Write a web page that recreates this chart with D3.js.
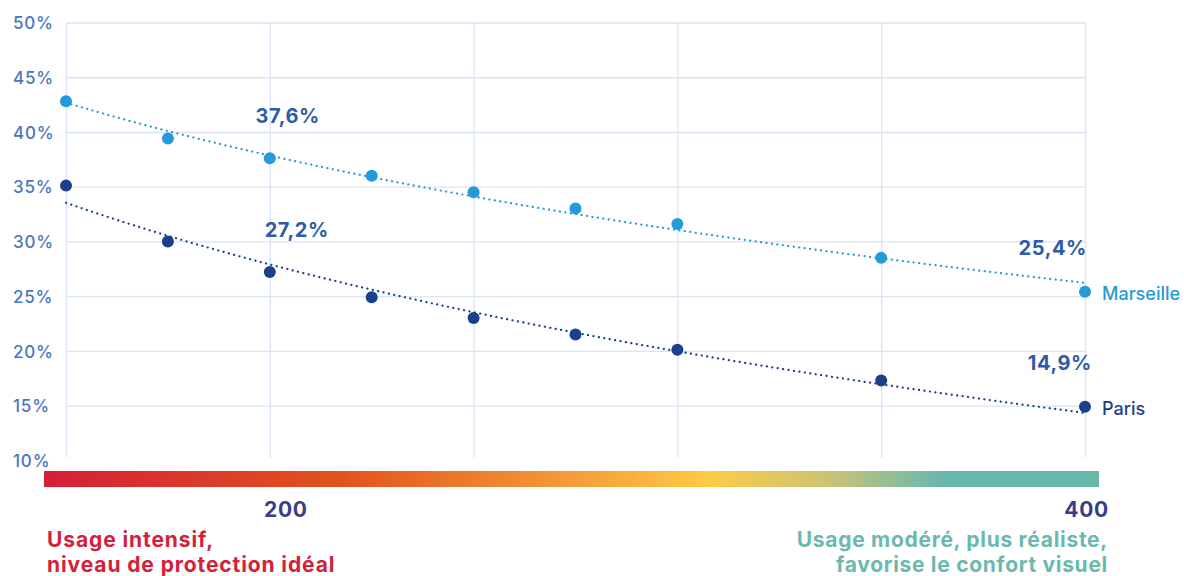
<!DOCTYPE html>
<html lang="fr">
<head>
<meta charset="utf-8">
<script src="https://cdn.jsdelivr.net/npm/d3@7"></script>
<style>
  html, body { margin: 0; padding: 0; background: #ffffff; }
  svg { display: block; font-family: "Inter", "Noto Sans", sans-serif; }
</style>
</head>
<body>
<svg id="chart" width="1184" height="576"></svg>
<script>
// Éclairement (lux) et part de la population concernée (%)
const lux = [150, 175, 200, 225, 250, 275, 300, 350, 400];
const marseille = [42.8, 39.4, 37.6, 36.0, 34.5, 33.0, 31.6, 28.5, 25.4];
const paris = [35.1, 30.0, 27.2, 24.9, 23.0, 21.5, 20.1, 17.3, 14.9];

const yTicks = [10, 15, 20, 25, 30, 35, 40, 45, 50];
const xGridTicks = [150, 200, 250, 300, 350, 400];
const xLabels = [200, 400];

// Valeurs annotées : [série, lux, texte]
const callouts = [
  ["marseille", 200, "37,6%"],
  ["paris", 200, "27,2%"],
  ["marseille", 400, "25,4%"],
  ["paris", 400, "14,9%"]
];

const series = [
  { key: "marseille", name: "Marseille", values: marseille, color: "#239bd8" },
  { key: "paris", name: "Paris", values: paris, color: "#1b3f8b" }
];

// Dégradé de la barre d'usage
const gradientStops = [
  [0.00, "#d41f37"],
  [0.28, "#e2521c"],
  [0.52, "#f6a33a"],
  [0.63, "#fecb45"],
  [0.74, "#cdc472"],
  [0.85, "#69b8ae"],
  [1.00, "#69b8ae"]
];

const svg = d3.select("#chart");

const x = d3.scaleLinear().domain([150, 400]).range([66, 1085]);
const y = d3.scaleLinear().domain([10, 50]).range([460.4, 22.5]);

const gridColor = "#dae4f5";

// Quadrillage horizontal
svg.append("g")
  .attr("transform", `translate(${x(150)},0)`)
  .call(d3.axisLeft(y).tickValues(yTicks.filter(d => d > 10))
    .tickSize(-(x(400) - x(150))).tickFormat(""))
  .call(g => g.select(".domain").remove())
  .call(g => g.selectAll("line").attr("stroke", gridColor).attr("stroke-width", 1.3));

// Quadrillage vertical
svg.append("g")
  .attr("transform", `translate(0,${y(50)})`)
  .call(d3.axisBottom(x).tickValues(xGridTicks)
    .tickSize(y(10) - y(50) - 3).tickFormat(""))
  .call(g => g.select(".domain").remove())
  .call(g => g.selectAll("line").attr("stroke", gridColor).attr("stroke-width", 1.3));

// Étiquettes de l'axe des pourcentages
svg.append("g")
  .attr("transform", "translate(13,0)")
  .call(d3.axisLeft(y).tickValues(yTicks).tickSize(0).tickPadding(0)
    .tickFormat(d => d + "%"))
  .call(g => g.select(".domain").remove())
  .call(g => g.selectAll("text")
    .attr("x", 0)
    .attr("text-anchor", "start")
    .attr("dy", "0.36em")
    .attr("fill", "#4a76c0")
    .attr("font-family", "Inter, sans-serif")
    .attr("font-size", 17)
    .attr("font-weight", 500)
    .attr("letter-spacing", 0.8));

// Tendance logarithmique (moindres carrés sur ln x)
function logFit(xs, ys) {
  const lx = xs.map(Math.log);
  const mx = d3.mean(lx), my = d3.mean(ys);
  const a = d3.sum(lx, (v, i) => (v - mx) * (ys[i] - my)) / d3.sum(lx, v => (v - mx) ** 2);
  const b = my - a * mx;
  return v => a * Math.log(v) + b;
}

const samples = d3.range(150, 400.01, 2);

series.forEach(s => {
  const f = logFit(lux, s.values);
  svg.append("path")
    .datum(samples)
    .attr("fill", "none")
    .attr("stroke", s.color)
    .attr("stroke-width", 2.2)
    .attr("stroke-linecap", "round")
    .attr("stroke-dasharray", "0.1 5.4")
    .attr("d", d3.line().x(d => x(d)).y(d => y(f(d))));
});

// Points mesurés
series.forEach(s => {
  svg.append("g")
    .selectAll("circle")
    .data(lux.map((l, i) => [l, s.values[i]]))
    .join("circle")
    .attr("cx", d => x(d[0]))
    .attr("cy", d => y(d[1]))
    .attr("r", 6)
    .attr("fill", s.color);

  const last = s.values[s.values.length - 1];
  svg.append("text")
    .attr("x", x(lux[lux.length - 1]) + 17)
    .attr("y", y(last) + 2)
    .attr("dy", "0.35em")
    .attr("fill", s.color)
    .attr("font-size", 18)
    .attr("font-weight", 500)
    .text(s.name);
});

// Valeurs annotées
const valueOf = (key, l) => series.find(s => s.key === key).values[lux.indexOf(l)];
svg.append("g")
  .selectAll("text")
  .data(callouts)
  .join("text")
  .attr("x", d => d[1] === 400 ? x(d[1]) + (d[0] === "paris" ? 7 : 2) : x(d[1]) + (d[0] === "paris" ? 27 : 18))
  .attr("y", d => y(valueOf(d[0], d[1])) - (d[1] === 400 ? 37 : 35))
  .attr("text-anchor", d => d[1] === 400 ? "end" : "middle")
  .attr("fill", "#2e5ba7")
  .attr("font-size", 20)
  .attr("font-weight", 700)
  .attr("letter-spacing", 0.6)
  .text(d => d[2]);

// Barre dégradée
const grad = svg.append("defs").append("linearGradient")
  .attr("id", "usage-gradient")
  .attr("x1", "0%").attr("x2", "100%").attr("y1", "0%").attr("y2", "0%");
grad.selectAll("stop")
  .data(gradientStops)
  .join("stop")
  .attr("offset", d => d[0])
  .attr("stop-color", d => d[1]);

svg.append("rect")
  .attr("x", 44)
  .attr("y", 471)
  .attr("width", 1099 - 44)
  .attr("height", 16)
  .attr("fill", "url(#usage-gradient)");

// Graduations en lux
svg.append("g")
  .selectAll("text")
  .data(xLabels)
  .join("text")
  .attr("x", d => d === 200 ? x(d) + 16 : x(d) + 1.5)
  .attr("y", 517)
  .attr("text-anchor", "middle")
  .attr("fill", "#3a3d8c")
  .attr("font-size", 21)
  .attr("font-weight", 700)
  .attr("letter-spacing", 0.6)
  .text(d => d);

// Légendes d'usage
const leftNote = ["Usage intensif,", "niveau de protection idéal"];
const rightNote = ["Usage modéré, plus réaliste,", "favorise le confort visuel"];

svg.append("text")
  .attr("x", 47).attr("y", 547)
  .attr("fill", "#d42139")
  .attr("font-size", 21).attr("font-weight", 700)
  .attr("letter-spacing", 0.9)
  .selectAll("tspan").data(leftNote).join("tspan")
  .attr("x", 47).attr("dy", (d, i) => i ? 25 : 0)
  .text(d => d);

svg.append("text")
  .attr("x", 1108).attr("y", 547)
  .attr("text-anchor", "end")
  .attr("fill", "#6bb9ad")
  .attr("font-size", 21).attr("font-weight", 700)
  .attr("letter-spacing", 0.7)
  .selectAll("tspan").data(rightNote).join("tspan")
  .attr("x", 1108).attr("dy", (d, i) => i ? 25 : 0)
  .text(d => d);
</script>
</body>
</html>
